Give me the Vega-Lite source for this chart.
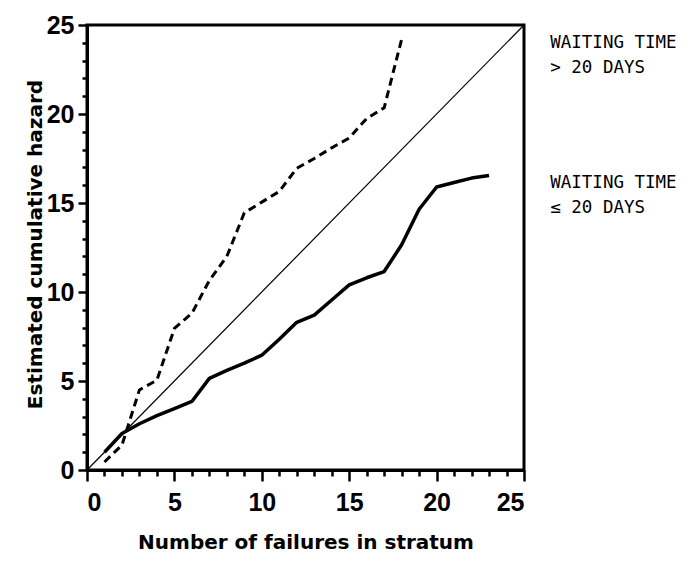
{
  "$schema": "https://vega.github.io/schema/vega-lite/v6.json",
  "width": 437,
  "height": 445,
  "autosize": "none",
  "padding": {"left": 87, "top": 25, "right": 171, "bottom": 99},
  "background": "white",
  "config": {
    "view": {"stroke": "black", "strokeWidth": 3},
    "axis": {
      "domainColor": "black",
      "domainWidth": 3,
      "tickColor": "black",
      "tickWidth": 2.5,
      "grid": false,
      "labelFont": "Liberation Sans",
      "labelFontWeight": "bold",
      "labelFontSize": 25,
      "labelColor": "black",
      "titleFont": "DejaVu Sans",
      "titleFontWeight": "bold",
      "titleFontSize": 20,
      "titleColor": "black"
    }
  },
  "datasets": {
    "curves": [
      {"series": "reference", "failures": 0, "hazard": 0},
      {"series": "reference", "failures": 25, "hazard": 25},
      {"series": "gt20", "failures": 1, "hazard": 0.45},
      {"series": "gt20", "failures": 2, "hazard": 1.4},
      {"series": "gt20", "failures": 3, "hazard": 4.5},
      {"series": "gt20", "failures": 4, "hazard": 5.05},
      {"series": "gt20", "failures": 5, "hazard": 7.95},
      {"series": "gt20", "failures": 6, "hazard": 8.8},
      {"series": "gt20", "failures": 7, "hazard": 10.65},
      {"series": "gt20", "failures": 8, "hazard": 12.0},
      {"series": "gt20", "failures": 9, "hazard": 14.45},
      {"series": "gt20", "failures": 10, "hazard": 15.05},
      {"series": "gt20", "failures": 11, "hazard": 15.65},
      {"series": "gt20", "failures": 12, "hazard": 16.95},
      {"series": "gt20", "failures": 13, "hazard": 17.5},
      {"series": "gt20", "failures": 14, "hazard": 18.1},
      {"series": "gt20", "failures": 15, "hazard": 18.65},
      {"series": "gt20", "failures": 16, "hazard": 19.75},
      {"series": "gt20", "failures": 17, "hazard": 20.35},
      {"series": "gt20", "failures": 18, "hazard": 24.2},
      {"series": "le20", "failures": 1, "hazard": 1.0},
      {"series": "le20", "failures": 2, "hazard": 2.05},
      {"series": "le20", "failures": 3, "hazard": 2.6},
      {"series": "le20", "failures": 4, "hazard": 3.05},
      {"series": "le20", "failures": 5, "hazard": 3.45},
      {"series": "le20", "failures": 6, "hazard": 3.85},
      {"series": "le20", "failures": 7, "hazard": 5.15},
      {"series": "le20", "failures": 8, "hazard": 5.6},
      {"series": "le20", "failures": 9, "hazard": 6.0},
      {"series": "le20", "failures": 10, "hazard": 6.45},
      {"series": "le20", "failures": 11, "hazard": 7.35},
      {"series": "le20", "failures": 12, "hazard": 8.3},
      {"series": "le20", "failures": 13, "hazard": 8.7},
      {"series": "le20", "failures": 14, "hazard": 9.55},
      {"series": "le20", "failures": 15, "hazard": 10.4},
      {"series": "le20", "failures": 16, "hazard": 10.8},
      {"series": "le20", "failures": 17, "hazard": 11.15},
      {"series": "le20", "failures": 18, "hazard": 12.65},
      {"series": "le20", "failures": 19, "hazard": 14.65},
      {"series": "le20", "failures": 20, "hazard": 15.9},
      {"series": "le20", "failures": 21, "hazard": 16.15},
      {"series": "le20", "failures": 22, "hazard": 16.4},
      {"series": "le20", "failures": 23, "hazard": 16.55}
    ],
    "labels": [
      {"text": "WAITING TIME", "failures": 26.5, "hazard": 24.0},
      {"text": "> 20 DAYS", "failures": 26.5, "hazard": 22.6},
      {"text": "WAITING TIME", "failures": 26.5, "hazard": 16.1},
      {"text": "≤ 20 DAYS", "failures": 26.5, "hazard": 14.7}
    ]
  },
  "encoding": {
    "x": {
      "field": "failures",
      "type": "quantitative",
      "scale": {"domain": [0, 25], "nice": false, "zero": false},
      "axis": {
        "title": "Number of failures in stratum",
        "values": [0,1,2,3,4,5,6,7,8,9,10,11,12,13,14,15,16,17,18,19,20,21,22,23,24,25],
        "labelExpr": "datum.value % 5 === 0 ? datum.label : ''",
        "tickSize": {"condition": {"test": "datum.value % 5 === 0", "value": 11}, "value": 6},
        "labelPadding": 9,
        "titleBaseline": "alphabetic",
        "titleY": 78
      }
    },
    "y": {
      "field": "hazard",
      "type": "quantitative",
      "scale": {"domain": [0, 25], "nice": false, "zero": false},
      "axis": {
        "title": "Estimated cumulative hazard",
        "values": [0,1,2,3,4,5,6,7,8,9,10,11,12,13,14,15,16,17,18,19,20,21,22,23,24,25],
        "labelExpr": "datum.value % 5 === 0 ? datum.label : ''",
        "tickSize": {"condition": {"test": "datum.value % 5 === 0", "value": 9}, "value": 5},
        "labelPadding": 4,
        "titleBaseline": "alphabetic",
        "titleX": -46,
        "titleY": 219,
        "titleAlign": "center"
      }
    }
  },
  "layer": [
    {
      "data": {"name": "curves"},
      "transform": [{"filter": "datum.series === 'reference'"}],
      "mark": {"type": "line", "color": "black", "strokeWidth": 1.2}
    },
    {
      "data": {"name": "curves"},
      "transform": [{"filter": "datum.series === 'gt20'"}],
      "mark": {"type": "line", "color": "black", "strokeWidth": 3, "strokeDash": [8, 5]}
    },
    {
      "data": {"name": "curves"},
      "transform": [{"filter": "datum.series === 'le20'"}],
      "mark": {"type": "line", "color": "black", "strokeWidth": 3.5, "strokeJoin": "round"}
    },
    {
      "data": {"name": "labels"},
      "mark": {"type": "text", "align": "left", "baseline": "middle", "font": "DejaVu Sans Mono", "fontSize": 17.5, "color": "black"},
      "encoding": {"text": {"field": "text"}}
    }
  ]
}
